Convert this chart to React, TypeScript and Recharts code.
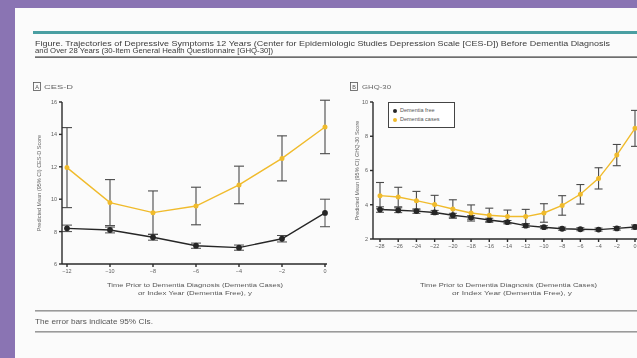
import React from 'react';
import { LineChart, Line, XAxis, YAxis, ErrorBar, Legend } from 'recharts';

// Panel A: CES-D
const cesdYears = ['−12', '−10', '−8', '−6', '−4', '−2', '0'];
const cesdFree = [8.2, 8.1, 7.65, 7.13, 7.01, 7.56, 9.15];
const cesdFreeCI = [0.2, 0.18, 0.18, 0.16, 0.16, 0.2, 0.85];
const cesdCases = [11.95, 9.79, 9.17, 9.58, 10.88, 12.52, 14.46];
const cesdCasesCI = [2.47, 1.42, 1.34, 1.16, 1.16, 1.39, 1.65];
const cesdTicks = [6, 8, 10, 12, 14, 16];

// Panel B: GHQ-30
const ghqYears = ['−28', '−26', '−24', '−22', '−20', '−18', '−16', '−14', '−12', '−10', '−8', '−6', '−4', '−2', '0'];
const ghqFree = [3.72, 3.68, 3.63, 3.55, 3.39, 3.26, 3.11, 2.98, 2.78, 2.69, 2.6, 2.57, 2.55, 2.62, 2.7];
const ghqFreeCI = [0.16, 0.14, 0.13, 0.12, 0.11, 0.1, 0.1, 0.1, 0.1, 0.09, 0.09, 0.09, 0.09, 0.1, 0.12];
const ghqCases = [4.53, 4.45, 4.24, 4.01, 3.75, 3.52, 3.39, 3.31, 3.31, 3.52, 3.96, 4.61, 5.54, 6.9, 8.46];
const ghqCasesCI = [0.77, 0.57, 0.54, 0.54, 0.54, 0.47, 0.41, 0.38, 0.42, 0.54, 0.57, 0.57, 0.62, 0.62, 1.05];
const ghqTicks = [2, 4, 6, 8, 10];

const seriesNames = ['Dementia free', 'Dementia cases'];

const cesdData = cesdYears.map((t, i) => ({
  t,
  free: cesdFree[i],
  freeCI: cesdFreeCI[i],
  cases: cesdCases[i],
  casesCI: cesdCasesCI[i],
}));
const ghqData = ghqYears.map((t, i) => ({
  t,
  free: ghqFree[i],
  freeCI: ghqFreeCI[i],
  cases: ghqCases[i],
  casesCI: ghqCasesCI[i],
}));

const FREE_COLOR = '#262626';
const CASE_COLOR = '#f0bb2c';
const AXIS = '#2a2a2a';
const ERR = '#4a4a4a';
const TICK = { fontSize: 5.5, fill: '#5e5e5e', fontFamily: 'Liberation Sans, Arial, sans-serif' };
const FONT = 'Liberation Sans, Arial, sans-serif';

const LegendBox = () => (
  <div
    style={{
      border: '1px solid #444',
      width: 67,
      height: 26,
      boxSizing: 'border-box',
      background: '#fff',
      fontFamily: FONT,
      fontSize: 5.5,
      color: '#555',
      padding: '3px 0 0 4px',
      lineHeight: '9px',
    }}
  >
    {seriesNames.map((n, i) => (
      <div key={n} style={{ display: 'flex', alignItems: 'center' }}>
        <span
          style={{
            display: 'inline-block',
            width: 4,
            height: 4,
            borderRadius: 2,
            background: i === 0 ? FREE_COLOR : CASE_COLOR,
            marginRight: 3,
          }}
        />
        {n}
      </div>
    ))}
  </div>
);

export default function App() {
  return (
    <div
      style={{
        position: 'absolute',
        left: 0,
        top: 0,
        width: 637,
        height: 358,
        overflow: 'hidden',
        background: '#8a74b3',
      }}
    >
      <div
        style={{
          position: 'absolute',
          left: 15,
          top: 8,
          width: 640,
          height: 360,
          background: '#fbfbfb',
        }}
      />
      <div style={{ position: 'absolute', left: 0, top: 0, width: 660, height: 358, filter: 'blur(0.6px)' }}>
        <svg
          width={660}
          height={358}
          style={{ position: 'absolute', left: 0, top: 0 }}
          fontFamily={FONT}
        >
          <rect x={33} y={31} width={640} height={3} fill="#4a9fa2" />
          <text x={35} y={45.5} fontSize={6.5} fill="#3a3a3a" textLength={575} lengthAdjust="spacingAndGlyphs">
            Figure. Trajectories of Depressive Symptoms 12 Years (Center for Epidemiologic Studies Depression Scale [CES-D]) Before Dementia Diagnosis
          </text>
          <text x={35} y={52.5} fontSize={6.5} fill="#3a3a3a" textLength={238} lengthAdjust="spacingAndGlyphs">
            and Over 28 Years (30-Item General Health Questionnaire [GHQ-30])
          </text>
          <rect x={35} y={56.5} width={640} height={1.2} fill="#333" />

          <rect x={33.5} y={82.5} width={7} height={8} fill="none" stroke="#555" strokeWidth={0.8} />
          <text x={37} y={88.5} fontSize={5.5} fill="#555" textAnchor="middle">A</text>
          <text x={44} y={88.5} fontSize={6} fill="#666" textLength={29} lengthAdjust="spacingAndGlyphs">CES-D</text>

          <rect x={350.5} y={82.5} width={7} height={8} fill="none" stroke="#555" strokeWidth={0.8} />
          <text x={354} y={88.5} fontSize={5.5} fill="#555" textAnchor="middle">B</text>
          <text x={362} y={88.5} fontSize={6} fill="#666" textLength={29} lengthAdjust="spacingAndGlyphs">GHQ-30</text>

          <text x={107} y={287} fontSize={5.5} fill="#555" textLength={176} lengthAdjust="spacingAndGlyphs">
            Time Prior to Dementia Diagnosis (Dementia Cases)
          </text>
          <text x={138} y={295} fontSize={5.5} fill="#555" textLength={114} lengthAdjust="spacingAndGlyphs">
            or Index Year (Dementia Free), y
          </text>
          <text x={420} y={287} fontSize={5.5} fill="#555" textLength={177} lengthAdjust="spacingAndGlyphs">
            Time Prior to Dementia Diagnosis (Dementia Cases)
          </text>
          <text x={452} y={295} fontSize={5.5} fill="#555" textLength={120} lengthAdjust="spacingAndGlyphs">
            or Index Year (Dementia Free), y
          </text>

          <rect x={35} y={310} width={640} height={1.6} fill="#9a9a9a" />
          <text x={35} y={324} fontSize={6.5} fill="#555" textLength={118} lengthAdjust="spacingAndGlyphs">
            The error bars indicate 95% CIs.
          </text>
          <rect x={35} y={331} width={640} height={1.6} fill="#9a9a9a" />
        </svg>

        <div style={{ position: 'absolute', left: 0, top: 0 }}>
          <LineChart width={340} height={300} data={cesdData} margin={{ top: 102, right: 13, bottom: 0, left: 0 }}>
            <XAxis
              dataKey="t"
              height={36}
              padding={{ left: 5, right: 2 }}
              tick={TICK}
              tickSize={3}
              tickMargin={2}
              stroke={AXIS}
              strokeWidth={1.4}
              interval={0}
            />
            <YAxis
              type="number"
              domain={[6, 16]}
              ticks={cesdTicks}
              width={62}
              tick={TICK}
              tickSize={3}
              tickMargin={2}
              stroke={AXIS}
              strokeWidth={1.4}
              allowDataOverflow
              label={{
                value: 'Predicted Mean (95% CI) CES-D Score',
                angle: -90,
                position: 'center',
                dx: 8,
                style: { fontSize: 5.5, fill: '#666', fontFamily: FONT },
              }}
            />
            <Line
              dataKey="free"
              name={seriesNames[0]}
              stroke={FREE_COLOR}
              strokeWidth={1.4}
              dot={{ r: 2.2, fill: FREE_COLOR, stroke: FREE_COLOR }}
              isAnimationActive={false}
            >
              <ErrorBar dataKey="freeCI" width={5} stroke={ERR} strokeWidth={1} />
            </Line>
            <Line
              dataKey="cases"
              name={seriesNames[1]}
              stroke={CASE_COLOR}
              strokeWidth={1.4}
              dot={{ r: 1.8, fill: CASE_COLOR, stroke: CASE_COLOR }}
              isAnimationActive={false}
            >
              <ErrorBar dataKey="casesCI" width={5} stroke={ERR} strokeWidth={1.1} />
            </Line>
          </LineChart>
        </div>

        <div style={{ position: 'absolute', left: 310, top: 0 }}>
          <LineChart width={340} height={300} data={ghqData} margin={{ top: 102, right: 13, bottom: 0, left: 0 }}>
            <XAxis
              dataKey="t"
              height={35}
              padding={{ left: 7, right: 2 }}
              tick={TICK}
              tickSize={3}
              tickMargin={2}
              stroke={AXIS}
              strokeWidth={1.4}
              interval={0}
            />
            <YAxis
              type="number"
              domain={[2, 10]}
              ticks={ghqTicks}
              width={63}
              tick={TICK}
              tickSize={3}
              tickMargin={2}
              stroke={AXIS}
              strokeWidth={1.4}
              label={{
                value: 'Predicted Mean (95% CI) GHQ-30 Score',
                angle: -90,
                position: 'center',
                dx: 16,
                style: { fontSize: 5.5, fill: '#666', fontFamily: FONT },
              }}
            />
            <Legend
              content={<LegendBox />}
              wrapperStyle={{ position: 'absolute', left: 78, top: 102, width: 67, height: 26 }}
            />
            <Line
              dataKey="free"
              name={seriesNames[0]}
              stroke={FREE_COLOR}
              strokeWidth={1.4}
              dot={{ r: 2.2, fill: FREE_COLOR, stroke: FREE_COLOR }}
              isAnimationActive={false}
            >
              <ErrorBar dataKey="freeCI" width={4} stroke={ERR} strokeWidth={1} />
            </Line>
            <Line
              dataKey="cases"
              name={seriesNames[1]}
              stroke={CASE_COLOR}
              strokeWidth={1.4}
              dot={{ r: 1.8, fill: CASE_COLOR, stroke: CASE_COLOR }}
              isAnimationActive={false}
            >
              <ErrorBar dataKey="casesCI" width={4} stroke={ERR} strokeWidth={1.1} />
            </Line>
          </LineChart>
        </div>
      </div>
    </div>
  );
}
